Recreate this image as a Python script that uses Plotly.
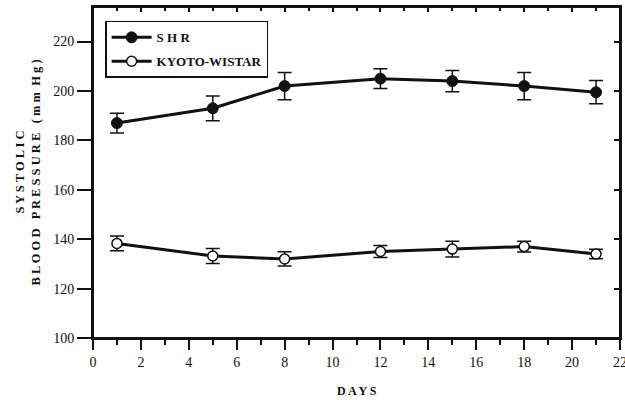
import plotly.graph_objects as go

days = [1, 5, 8, 12, 15, 18, 21]
shr = [187, 193, 202, 205, 204, 202, 199.5]
shr_err = [4, 5, 5.5, 4, 4.3, 5.5, 4.7]
kw = [138.3, 133.2, 132, 135, 136, 137, 134]
kw_err = [3, 3, 2.9, 2.4, 3.2, 2.2, 1.9]
x_ticks = list(range(0, 23, 2))
y_ticks = list(range(100, 221, 20))

FONT = "Liberation Serif"
BLACK = "#111111"

fig = go.Figure()
fig.add_trace(go.Scatter(
    x=days, y=shr, name="<b>S H R</b>", mode="lines+markers",
    line=dict(color=BLACK, width=3),
    marker=dict(symbol="circle", size=11, color=BLACK, line=dict(color=BLACK, width=1)),
    error_y=dict(type="data", array=shr_err, color=BLACK, thickness=1.5, width=7),
    legendgroup="a",
))
fig.add_trace(go.Scatter(
    x=days, y=kw, name="<b>KYOTO-WISTAR</b>", mode="lines+markers",
    line=dict(color=BLACK, width=3),
    marker=dict(symbol="circle", size=10, color="white", line=dict(color=BLACK, width=1.5)),
    error_y=dict(type="data", array=kw_err, color=BLACK, thickness=1.5, width=7),
    legendgroup="b",
))
# invisible trace to anchor mirrored (inside-tick) axes
fig.add_trace(go.Scatter(x=[0], y=[100], xaxis="x2", yaxis="y2", mode="markers",
                         marker=dict(opacity=0), showlegend=False, hoverinfo="skip"))

tickfont = dict(family=FONT, size=14, color=BLACK)
fig.update_layout(
    width=625, height=400,
    margin=dict(l=93, r=5, t=7, b=62, pad=0, autoexpand=False),
    paper_bgcolor="white", plot_bgcolor="white",
    font=dict(family=FONT, size=12, color=BLACK),
    showlegend=True,
    legend=dict(x=0.023, y=0.958, xanchor="left", yanchor="top",
                bordercolor=BLACK, borderwidth=1.5, bgcolor="white",
                font=dict(family=FONT, size=13, color=BLACK),
                tracegroupgap=4, itemwidth=40),
    xaxis=dict(range=[0, 22], tickvals=x_ticks, automargin=False, mirror=True,
               ticks="outside", ticklen=10, tickwidth=1.5, tickcolor=BLACK,
               minor=dict(dtick=1, tick0=0, ticks="outside", ticklen=5, tickwidth=1.5, tickcolor=BLACK),
               showline=True, linecolor=BLACK, linewidth=2, showgrid=False, zeroline=False,
               tickfont=tickfont, tickprefix="<b>", ticksuffix="</b>", ticklabeloverflow="allow"),
    yaxis=dict(range=[100, 234], tickvals=y_ticks, automargin=False, mirror=True,
               ticks="outside", ticklen=14, tickwidth=1.5, tickcolor=BLACK,
               showline=True, linecolor=BLACK, linewidth=2, showgrid=False, zeroline=False,
               tickfont=tickfont, tickprefix="<b>", ticksuffix="</b>"),
    xaxis2=dict(range=[0, 22], overlaying="x", side="top", anchor="y2", automargin=False,
                tickvals=x_ticks, ticks="inside", ticklen=5, tickwidth=1.5, tickcolor=BLACK,
                minor=dict(dtick=1, tick0=0, ticks="inside", ticklen=4, tickwidth=1.5, tickcolor=BLACK),
                showticklabels=False, showline=False, showgrid=False, zeroline=False),
    yaxis2=dict(range=[100, 234], overlaying="y", side="right", anchor="free", position=1,
                automargin=False,
                tickvals=y_ticks, ticks="inside", ticklen=6, tickwidth=1.5, tickcolor=BLACK,
                showticklabels=False, showline=False, showgrid=False, zeroline=False),
    shapes=[dict(type="rect", xref="paper", yref="paper", x0=0, x1=1, y0=0, y1=1,
                 line=dict(color=BLACK, width=2), fillcolor="rgba(0,0,0,0)", layer="above")],
    annotations=[
        dict(text="<b>D A Y S</b>", xref="paper", yref="paper", x=0.5, y=0,
             xanchor="center", yanchor="middle", yshift=-53, showarrow=False,
             font=dict(family=FONT, size=12, color=BLACK)),
        dict(text="<b>S Y S T O L I C</b>", xref="paper", yref="paper", x=0, y=0.5,
             xanchor="center", yanchor="middle", xshift=-74, textangle=-90, showarrow=False,
             font=dict(family=FONT, size=12.5, color=BLACK)),
        dict(text="<b>B L O O D   P R E S S U R E   ( m m  H g )</b>", xref="paper", yref="paper",
             x=0, y=0.5, xanchor="center", yanchor="middle", xshift=-58, textangle=-90,
             showarrow=False, font=dict(family=FONT, size=12.5, color=BLACK)),
    ],
)

fig.write_html(
    "out.html",
    config={"displayModeBar": False},
    post_script=(
        "document.body.style.margin='0px';"
        "document.body.style.overflow='hidden';"
        "document.documentElement.style.overflow='hidden';"
    ),
)
